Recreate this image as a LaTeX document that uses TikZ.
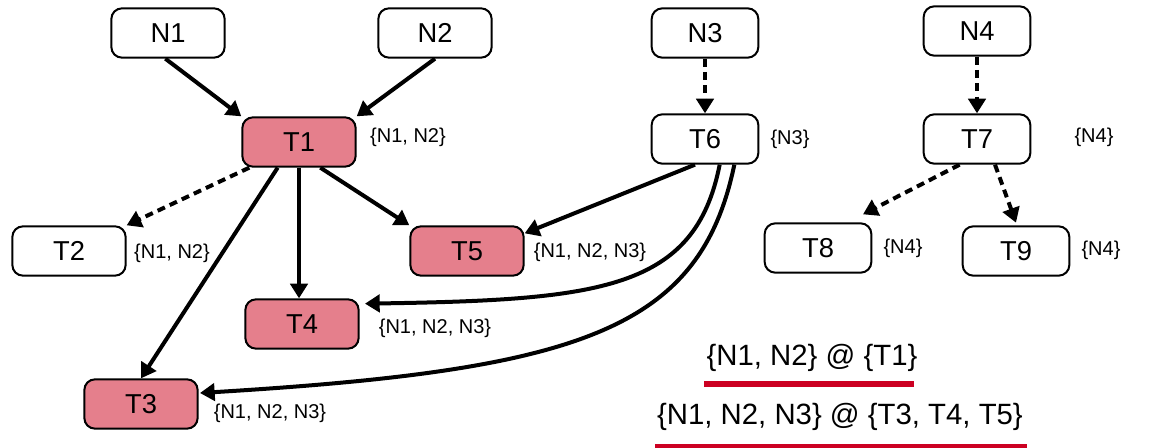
\documentclass[tikz,border=0pt]{standalone}
\usepackage{fontspec}
\setmainfont{Liberation Sans}
\usetikzlibrary{arrows.meta}
\definecolor{boxpink}{RGB}{229,127,140}
\definecolor{linered}{RGB}{204,0,34}
\begin{document}
\begin{tikzpicture}[x=0.75pt,y=-0.75pt,
  box/.style={draw=black, line width=1.5pt, rounded corners=8pt,
    minimum width=85pt, minimum height=37pt, inner sep=0pt,
    font=\fontsize{20.5}{24}\selectfont},
  narrowbox/.style={box, minimum width=80pt},
  hot/.style={box, fill=boxpink},
  tag/.style={font=\fontsize{15}{18}\selectfont, inner sep=0pt},
  link/.style={line width=3pt, -{Triangle[length=11pt,width=13pt]}},
  weak/.style={link, dash pattern=on 6pt off 4pt},
  summary/.style={font=\fontsize{22}{26}\selectfont, inner sep=0pt},
  underline/.style={draw=linered, line width=4.5pt}]
\useasboundingbox (0,0) rectangle (1165,448);

% sources
\node[box] (N1) at (168,33) {N1};
\node[box] (N2) at (435,33) {N2};
\node[narrowbox] (N3) at (705,33) {N3};
\node[narrowbox] (N4) at (977,31) {N4};

% tasks
\node[hot] (T1) at (299,142) {T1};
\node[box] (T2) at (69,251) {T2};
\node[hot] (T3) at (141,404) {T3};
\node[hot] (T4) at (302,324) {T4};
\node[hot] (T5) at (467,251) {T5};
\node[narrowbox] (T6) at (705,139) {T6};
\node[narrowbox] (T7) at (977,139) {T7};
\node[narrowbox] (T8) at (818,248) {T8};
\node[narrowbox] (T9) at (1016,251) {T9};

% input sets
\node[tag] (sT1) at (408,137) {\{N1, N2\}};
\node[tag] (sT2) at (172,253) {\{N1, N2\}};
\node[tag] (sT3) at (270,413) {\{N1, N2, N3\}};
\node[tag] (sT4) at (435,328) {\{N1, N2, N3\}};
\node[tag] (sT5) at (590,252) {\{N1, N2, N3\}};
\node[tag] (sT6) at (790,139) {\{N3\}};
\node[tag] (sT7) at (1094,137) {\{N4\}};
\node[tag] (sT8) at (903,248) {\{N4\}};
\node[tag] (sT9) at (1101,250) {\{N4\}};

% edges
\draw[link] ([xshift=-2pt]N1.south) -- (T1.north west);
\draw[link] (N2.south) -- (T1.north east);
\draw[weak] ([xshift=6pt]T1.south west) -- (T2.north east);
\draw[link] ([xshift=16pt]T1.south) -- (T5.north west);
\draw[link] (T1.south) -- (T1.south |- T4.north);
\draw[link] ([xshift=-16pt]T1.south) -- (T3.north);
\draw[link] ([xshift=-7.5pt]T6.south) -- ([yshift=-6pt]T5.north east);
\draw[link] ([xshift=11pt]T6.south) .. controls (695,290) and (600,300) .. ([xshift=4pt,yshift=-4pt]T4.north east);
\draw[link] ([xshift=22pt]T6.south) .. controls (700,330) and (580,370) .. ([xshift=1pt,yshift=-11pt]T3.north east);
\draw[weak] (N3.south) -- (T6.north);
\draw[weak] (N4.south) -- (T7.north);
\draw[weak] ([xshift=-13pt]T7.south) -- ([xshift=-7pt,yshift=6pt]T8.north east);
\draw[weak] ([xshift=13.5pt]T7.south) -- ([yshift=2pt]T9.north);

% summary
\node[summary] (sum1) at (812,358) {\{N1, N2\} @ \{T1\}};
\node[summary] (sum2) at (840,417) {\{N1, N2, N3\} @ \{T3, T4, T5\}};
\draw[underline] (704,384) -- (914,384);
\draw[underline] (655,447) -- (1027,447);
\end{tikzpicture}
\end{document}
